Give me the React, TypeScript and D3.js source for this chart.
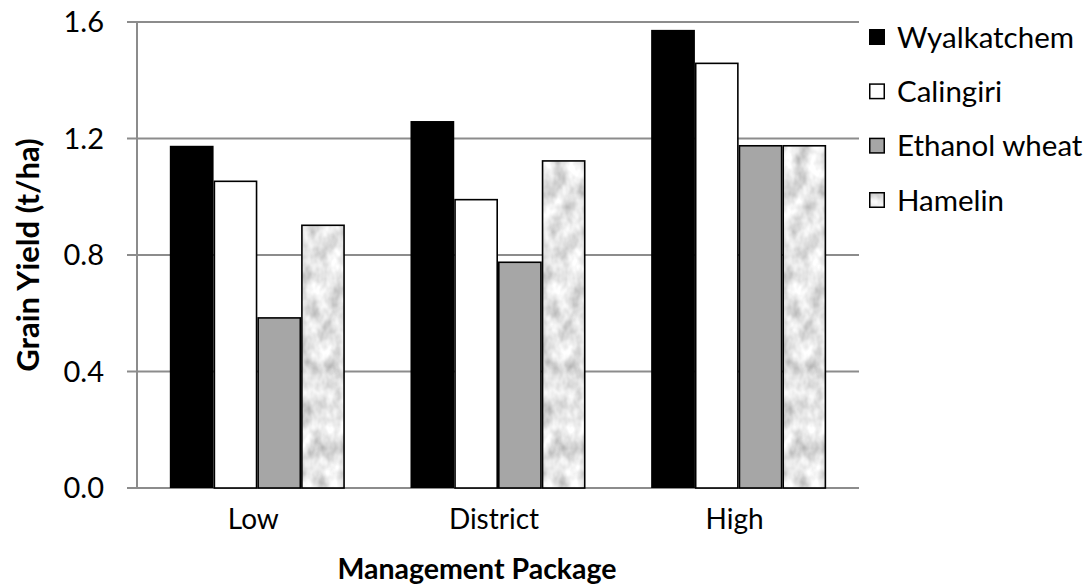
import React from "react";
import * as d3 from "d3";

// Grain yield (t/ha) by management package for four wheat varieties
const categories = ["Low", "District", "High"];
const varieties = ["Wyalkatchem", "Calingiri", "Ethanol wheat", "Hamelin"];
const wyalkatchem = [1.175, 1.26, 1.573];
const calingiri = [1.053, 0.99, 1.458];
const ethanolWheat = [0.584, 0.775, 1.175];
const hamelin = [0.902, 1.123, 1.175];
const yTicks = [0, 0.4, 0.8, 1.2, 1.6];

const seriesValues = [wyalkatchem, calingiri, ethanolWheat, hamelin];

const W = 1091;
const H = 587;
const plot = { left: 137, right: 859, top: 22, bottom: 488 };
const FONT = "Lato, 'Open Sans', sans-serif";

const fills = ["#000000", "#ffffff", "#a6a6a6", "#d0d0d0"];
const strokeWidths = [0, 1.6, 1.6, 1.6];
const textured = [false, false, false, true];

export default function App() {
  const x0 = d3
    .scaleBand<string>()
    .domain(categories)
    .range([plot.left, plot.right])
    .paddingInner(0.2727)
    .paddingOuter(0.1364);
  const x1 = d3
    .scaleBand<string>()
    .domain(varieties)
    .range([0, x0.bandwidth()])
    .padding(0);
  const y = d3.scaleLinear().domain([0, 1.6]).range([plot.bottom, plot.top]);
  const fmt = d3.format(".1f");

  const legendX = 869;
  const legendY = d3.scalePoint<string>().domain(varieties).range([37, 200]);

  return (
    <svg
      width={W}
      height={H}
      style={{ position: "absolute", left: 0, top: 0, background: "#fff" }}
    >
      <defs>
        {/* mottled water-drop style fill */}
        <filter id="mottle" x="0" y="0" width="1" height="1">
          <feTurbulence
            type="fractalNoise"
            baseFrequency="0.07 0.05"
            numOctaves={3}
            seed={7}
            result="noise"
          />
          <feColorMatrix
            in="noise"
            type="matrix"
            values="0.9 0 0 0 0.33  0.9 0 0 0 0.33  0.9 0 0 0 0.33  0 0 0 0 1"
            result="grey"
          />
          <feComposite in="grey" in2="SourceGraphic" operator="in" />
        </filter>
      </defs>

      {/* gridlines and y ticks */}
      {yTicks.map((t) => (
        <g key={t}>
          <line
            x1={plot.left - 10}
            x2={plot.right}
            y1={y(t)}
            y2={y(t)}
            stroke="#8c8c8c"
            strokeWidth={2}
          />
          <text
            x={104}
            y={y(t)}
            dy="0.36em"
            textAnchor="end"
            fontFamily={FONT}
            fontSize={29}
            fill="#000"
          >
            {fmt(t)}
          </text>
        </g>
      ))}
      <line
        x1={plot.left}
        x2={plot.left}
        y1={plot.top}
        y2={plot.bottom}
        stroke="#8c8c8c"
        strokeWidth={2}
      />

      {/* bars */}
      {categories.map((c, ci) => (
        <g key={c} transform={`translate(${x0(c)},0)`}>
          {varieties.map((v, si) => {
            const val = seriesValues[si][ci];
            const sw = strokeWidths[si];
            const bx = (x1(v) as number) + sw / 2;
            const bw = x1.bandwidth() - sw;
            return (
              <g key={v}>
                <rect
                  x={bx}
                  y={y(val)}
                  width={bw}
                  height={y(0) - y(val)}
                  fill={fills[si]}
                />
                {textured[si] && (
                  <rect
                    x={bx}
                    y={y(val)}
                    width={bw}
                    height={y(0) - y(val)}
                    fill={fills[si]}
                    filter="url(#mottle)"
                  />
                )}
                {sw > 0 && (
                  <rect
                    x={bx}
                    y={y(val)}
                    width={bw}
                    height={y(0) - y(val)}
                    fill="none"
                    stroke="#000"
                    strokeWidth={sw}
                  />
                )}
              </g>
            );
          })}
        </g>
      ))}

      {/* category labels */}
      {categories.map((c) => (
        <text
          key={c}
          x={(x0(c) as number) + x0.bandwidth() / 2 - 4}
          y={529}
          textAnchor="middle"
          fontFamily={FONT}
          fontSize={28}
          fill="#000"
        >
          {c}
        </text>
      ))}

      {/* axis titles */}
      <text
        x={477}
        y={579}
        textAnchor="middle"
        fontFamily={FONT}
        fontSize={28.5}
        fontWeight="bold"
        fill="#000"
      >
        Management Package
      </text>
      <text
        transform={`translate(39,${(plot.top + plot.bottom) / 2}) rotate(-90)`}
        textAnchor="middle"
        fontFamily={FONT}
        fontSize={31}
        fontWeight="bold"
        fill="#000"
      >
        Grain Yield (t/ha)
      </text>

      {/* legend */}
      {varieties.map((v, i) => (
        <g key={v} transform={`translate(${legendX},${legendY(v)})`}>
          <rect
            x={0.75}
            y={-7.25}
            width={14.5}
            height={14.5}
            fill={fills[i]}
          />
          {textured[i] && (
            <rect
              x={0.75}
              y={-7.25}
              width={14.5}
              height={14.5}
              fill={fills[i]}
              filter="url(#mottle)"
            />
          )}
          <rect
            x={0.75}
            y={-7.25}
            width={14.5}
            height={14.5}
            fill="none"
            stroke="#000"
            strokeWidth={1.5}
          />
          <text
            x={28}
            y={0}
            dy="0.36em"
            fontFamily={FONT}
            fontSize={29.5}
            fill="#000"
          >
            {v}
          </text>
        </g>
      ))}
    </svg>
  );
}
